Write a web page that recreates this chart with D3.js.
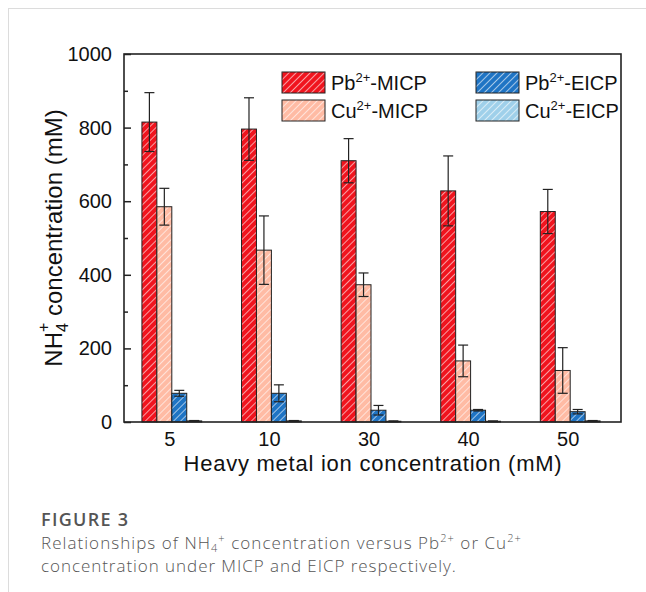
<!DOCTYPE html>
<html>
<head>
<meta charset="utf-8">
<script src="https://cdn.jsdelivr.net/npm/d3@7"></script>
<style>
  body { margin: 0; background: #fff; }
  svg { display: block; }
</style>
</head>
<body>
<div id="chart"></div>
<script>
// data
var categories = ['5', '10', '30', '40', '50'];
var seriesNames = ['Pb-MICP', 'Cu-MICP', 'Pb-EICP', 'Cu-EICP'];
var pbMicp = [815, 796, 710, 628, 572];
var pbMicpErr = [80, 85, 60, 95, 60];
var cuMicp = [585, 467, 373, 166, 140];
var cuMicpErr = [50, 93, 32, 43, 62];
var pbEicp = [78, 78, 32, 32, 28];
var pbEicpErr = [8, 23, 13, 2, 6];
var cuEicp = [3, 3, 2, 2, 3];
var cuEicpErr = [1, 1, 1, 1, 1];
var yTicks = [0, 200, 400, 600, 800, 1000];

var colors = ['#f0141e', '#ffbba4', '#1f74c4', '#9fd0ea'];
var legendLabels = [['Pb', '-MICP'], ['Cu', '-MICP'], ['Pb', '-EICP'], ['Cu', '-EICP']];

var width = 646, height = 592;
var svg = d3.select('#chart').append('svg')
  .attr('width', width)
  .attr('height', height);

// card frame
svg.append('line').attr('x1', 8.5).attr('x2', 8.5).attr('y1', 8).attr('y2', height)
  .attr('stroke', '#dcdcdc').attr('stroke-width', 1);
svg.append('line').attr('x1', 8).attr('x2', width).attr('y1', 8.5).attr('y2', 8.5)
  .attr('stroke', '#dcdcdc').attr('stroke-width', 1);

var plotLeft = 124, plotRight = 621, plotTop = 54, plotBottom = 422;

var defs = svg.append('defs');
colors.forEach(function(c, i) {
  var p = defs.append('pattern')
    .attr('id', 'hatch' + i)
    .attr('patternUnits', 'userSpaceOnUse')
    .attr('width', 5).attr('height', 5)
    .attr('patternTransform', 'rotate(45)');
  p.append('rect').attr('width', 5).attr('height', 5).attr('fill', c);
  p.append('line').attr('x1', 0).attr('x2', 0).attr('y1', 0).attr('y2', 5)
    .attr('stroke', '#fff').attr('stroke-width', 1.4).attr('stroke-opacity', 0.85);
});

var x = d3.scaleBand()
  .domain(categories)
  .range([plotLeft, plotRight - 3])
  .paddingInner(0.4)
  .paddingOuter(0.18);

var x1 = d3.scaleBand()
  .domain(seriesNames)
  .range([0, x.bandwidth()]);

var y = d3.scaleLinear()
  .domain([0, 1000])
  .range([plotBottom, plotTop]);

var values = [pbMicp, cuMicp, pbEicp, cuEicp];
var errs = [pbMicpErr, cuMicpErr, pbEicpErr, cuEicpErr];

var data = [];
categories.forEach(function(cat, ci) {
  seriesNames.forEach(function(s, si) {
    data.push({ cat: cat, series: s, si: si, value: values[si][ci], err: errs[si][ci] });
  });
});

var g = svg.append('g');

g.selectAll('rect.bar')
  .data(data)
  .enter()
  .append('rect')
  .attr('class', 'bar')
  .attr('x', function(d) { return x(d.cat) + x1(d.series); })
  .attr('y', function(d) { return y(d.value); })
  .attr('width', x1.bandwidth())
  .attr('height', function(d) { return y(0) - y(d.value); })
  .attr('fill', function(d) { return 'url(#hatch' + d.si + ')'; })
  .attr('stroke', '#222')
  .attr('stroke-width', 1);

// error bars
var eb = g.selectAll('g.err')
  .data(data)
  .enter()
  .append('g')
  .attr('class', 'err')
  .attr('stroke', '#222')
  .attr('stroke-width', 1.2);

function cx(d) { return x(d.cat) + x1(d.series) + x1.bandwidth() / 2; }

eb.append('line')
  .attr('x1', cx)
  .attr('x2', cx)
  .attr('y1', function(d) { return y(Math.max(0, d.value - d.err)); })
  .attr('y2', function(d) { return y(d.value + d.err); });

[1, -1].forEach(function(sign) {
  eb.append('line')
    .attr('x1', function(d) { return cx(d) - 5; })
    .attr('x2', function(d) { return cx(d) + 5; })
    .attr('y1', function(d) { return y(Math.max(0, d.value + sign * d.err)); })
    .attr('y2', function(d) { return y(Math.max(0, d.value + sign * d.err)); });
});

// frame
svg.append('rect')
  .attr('x', plotLeft).attr('y', plotTop)
  .attr('width', plotRight - plotLeft).attr('height', plotBottom - plotTop)
  .attr('fill', 'none')
  .attr('stroke', '#222')
  .attr('stroke-width', 1.6);

var font = 'Liberation Sans, Arial, sans-serif';

// y axis, ticks pointing inward
var yAxis = svg.append('g')
  .attr('transform', 'translate(' + plotLeft + ',0)')
  .call(d3.axisLeft(y).tickValues(yTicks).tickSize(-7).tickPadding(12).tickFormat(d3.format('d')));
yAxis.select('.domain').remove();
yAxis.selectAll('line').attr('stroke', '#222').attr('stroke-width', 1.5);
yAxis.selectAll('text').attr('font-family', font).attr('font-size', 20).attr('fill', '#111');

var yMinor = svg.append('g')
  .attr('transform', 'translate(' + plotLeft + ',0)')
  .call(d3.axisLeft(y).tickValues(d3.range(100, 1000, 200)).tickSize(-4).tickFormat(''));
yMinor.select('.domain').remove();
yMinor.selectAll('line').attr('stroke', '#222').attr('stroke-width', 1.5);

// x axis
var xAxis = svg.append('g')
  .attr('transform', 'translate(0,' + plotBottom + ')')
  .call(d3.axisBottom(x).tickSize(0).tickPadding(10));
xAxis.select('.domain').remove();
xAxis.selectAll('text').attr('font-family', font).attr('font-size', 20).attr('fill', '#111')
  .attr('dx', -2);

svg.append('text')
  .attr('x', 373).attr('y', 471)
  .attr('text-anchor', 'middle')
  .attr('font-family', font).attr('font-size', 22).attr('letter-spacing', 0.75).attr('fill', '#111')
  .text('Heavy metal ion concentration (mM)');

var yt = svg.append('text')
  .attr('transform', 'translate(62,' + 238 + ') rotate(-90)')
  .attr('text-anchor', 'middle')
  .attr('font-family', font).attr('font-size', 24).attr('fill', '#111');
yt.append('tspan').text('NH');
yt.append('tspan').attr('font-size', 16).attr('dy', 6).text('4');
yt.append('tspan').attr('font-size', 16).attr('dy', -19).attr('dx', -9).text('+');
yt.append('tspan').attr('dy', 13).text(' concentration (mM)');

// legend
var legend = svg.selectAll('.legend')
  .data(legendLabels)
  .enter()
  .append('g')
  .attr('class', 'legend')
  .attr('transform', function(d, i) {
    var col = Math.floor(i / 2), row = i % 2;
    return 'translate(' + (282 + col * 194) + ',' + (72 + row * 28) + ')';
  });

legend.append('rect')
  .attr('width', 43).attr('height', 21)
  .attr('fill', function(d, i) { return 'url(#hatch' + i + ')'; })
  .attr('stroke', '#222').attr('stroke-width', 1);

var lt = legend.append('text')
  .attr('x', 49).attr('y', 18)
  .attr('font-family', font).attr('font-size', 20).attr('fill', '#111');
lt.append('tspan').text(function(d) { return d[0]; });
lt.append('tspan').attr('font-size', 13).attr('dy', -8).text('2+');
lt.append('tspan').attr('dy', 8).text(function(d) { return d[1]; });

// caption
var capFont = 'Open Sans, Noto Sans, sans-serif';
svg.append('text')
  .attr('x', 41).attr('y', 526)
  .attr('font-family', capFont).attr('font-size', 18).attr('font-weight', 600)
  .attr('letter-spacing', 1.3).attr('fill', '#555')
  .text('FIGURE 3');

var c1 = svg.append('text')
  .attr('x', 41).attr('y', 549)
  .attr('font-family', capFont).attr('font-size', 17).attr('font-weight', 300)
  .attr('letter-spacing', 1.05).attr('fill', '#555');
c1.append('tspan').text('Relationships of NH');
c1.append('tspan').attr('font-size', 11).attr('dy', 3).text('4');
c1.append('tspan').attr('font-size', 11).attr('dy', -10).text('+');
c1.append('tspan').attr('dy', 7).text(' concentration versus Pb');
c1.append('tspan').attr('font-size', 11).attr('dy', -7).text('2+');
c1.append('tspan').attr('dy', 7).text(' or Cu');
c1.append('tspan').attr('font-size', 11).attr('dy', -7).text('2+');

svg.append('text')
  .attr('x', 41).attr('y', 572)
  .attr('font-family', capFont).attr('font-size', 17).attr('font-weight', 300)
  .attr('letter-spacing', 0.95).attr('fill', '#555')
  .text('concentration under MICP and EICP respectively.');
</script>
</body>
</html>
